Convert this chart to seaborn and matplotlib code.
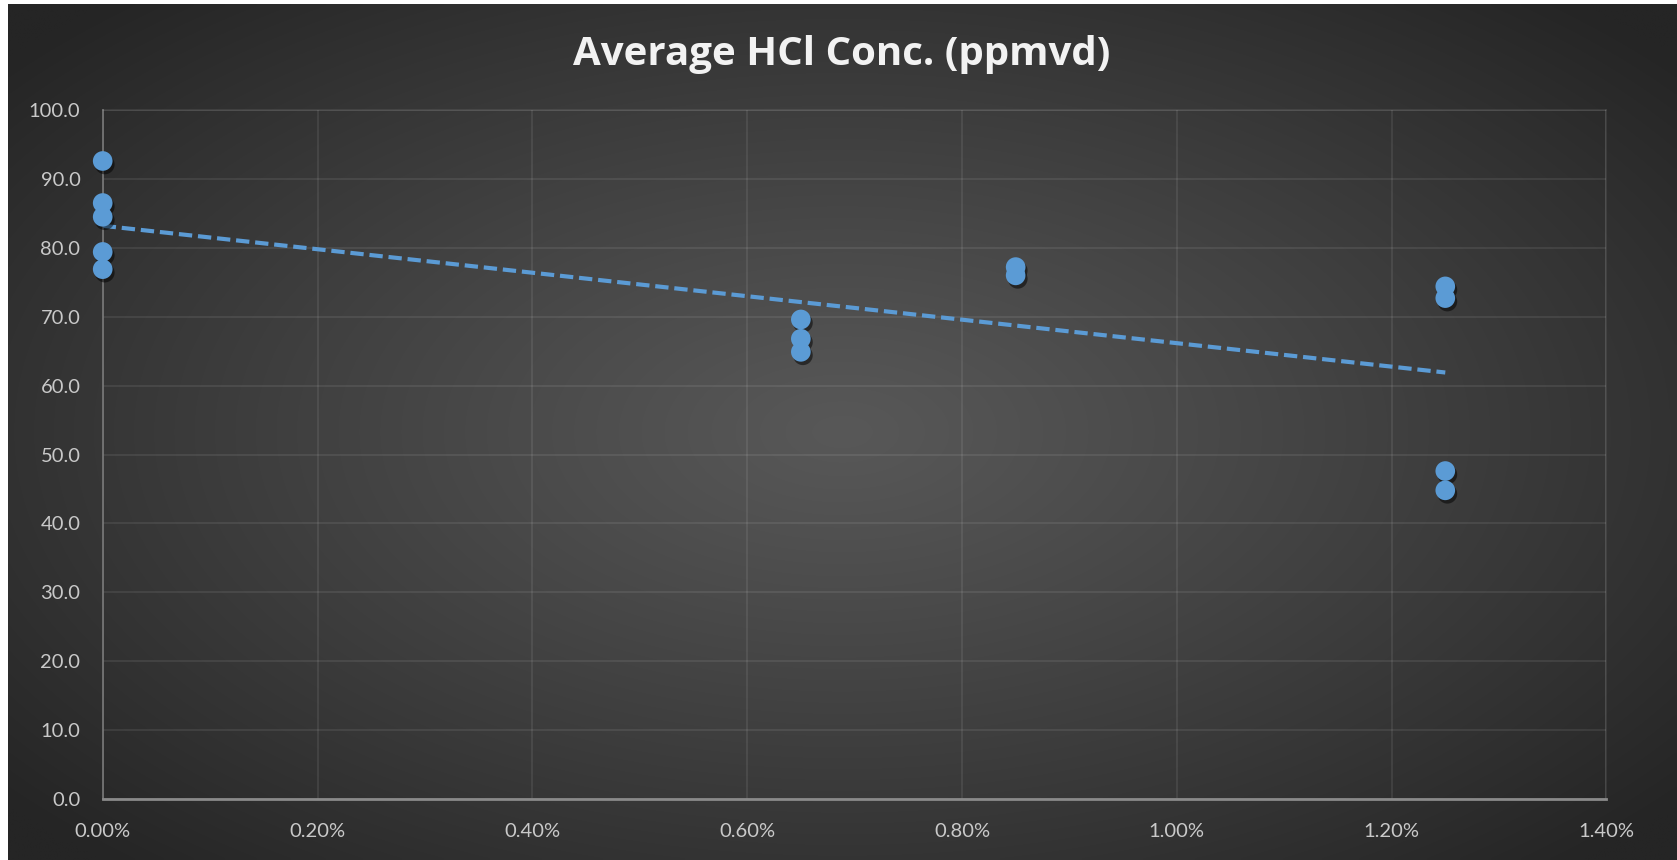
import numpy as np
import pandas as pd
import seaborn as sns
import matplotlib.pyplot as plt
import matplotlib.patheffects as pe
from matplotlib.ticker import PercentFormatter

# data
dose = [0.0, 0.0, 0.0, 0.0, 0.0,
        0.0065, 0.0065, 0.0065,
        0.0085, 0.0085,
        0.0125, 0.0125, 0.0125, 0.0125]
hcl = [92.6, 86.5, 84.5, 79.4, 76.9,
       69.6, 66.8, 64.9,
       77.2, 76.0,
       74.4, 72.7, 47.6, 44.8]
trend_x = [0.0, 0.0125]
trend_y = [83.2, 61.9]
x_ticks = [0.0, 0.002, 0.004, 0.006, 0.008, 0.010, 0.012, 0.014]
y_ticks = [0, 10, 20, 30, 40, 50, 60, 70, 80, 90, 100]
title = "Average HCl Conc. (ppmvd)"

df = pd.DataFrame({"dose": dose, "hcl": hcl})

sns.set_theme(style="dark")
plt.rcParams["font.family"] = ["Lato", "DejaVu Sans"]

blue = "#5b9bd5"
W, H = 1677, 860
fig = plt.figure(figsize=(W / 100, H / 100), dpi=100)
fig.patch.set_facecolor("white")

# radial gradient background (white strip on left/top like the source)
bg = fig.add_axes([8 / W, 0, 1 - 8 / W, 1 - 4 / H], zorder=0)
gx, gy = np.meshgrid(np.linspace(-1, 1, 400), np.linspace(-1, 1, 220))
r = np.clip(np.sqrt(gx ** 2 + (gy / 1.05) ** 2) / 1.3, 0, 1)
inner, outer = 0x58, 0x25
shade = (inner + (outer - inner) * r ** 1.1) / 255.0
bg.imshow(np.dstack([shade, shade, shade]), aspect="auto", extent=[0, 1, 0, 1],
          interpolation="bilinear")
bg.set_axis_off()

ax = fig.add_axes([102.7 / W, 1 - 799 / H, (1606.4 - 102.7) / W, (799 - 110) / H], zorder=1)
ax.set_facecolor("none")

sns.scatterplot(data=df, x="dose", y="hcl", ax=ax, s=200, color=blue,
                linewidth=0, zorder=4, clip_on=False)
ax.collections[-1].set_path_effects([
    pe.SimplePatchShadow(offset=(1.5, -2.5), shadow_rgbFace="black", alpha=0.5),
    pe.Normal()])

sns.lineplot(x=trend_x, y=trend_y, ax=ax, color=blue, lw=3.0,
             linestyle=(0, (3.2, 1.4)), zorder=3)

ax.set_xlim(0, 0.014)
ax.set_ylim(0, 100)
ax.set_xticks(x_ticks)
ax.set_yticks(y_ticks)
ax.xaxis.set_major_formatter(PercentFormatter(1.0, decimals=2))
ax.set_yticklabels([f"{v:.1f}" for v in y_ticks])
ax.set_xlabel("")
ax.set_ylabel("")

ax.grid(True, color="white", alpha=0.1, lw=1.1)
ax.tick_params(axis="both", length=0, colors="#c9c9c9", labelsize=14.5)
ax.tick_params(axis="y", pad=16)
ax.tick_params(axis="x", pad=17)
for side in ["top", "right"]:
    ax.spines[side].set_color((1, 1, 1, 0.1))
    ax.spines[side].set_linewidth(1.1)
ax.spines["left"].set_color("#7a7a7a")
ax.spines["left"].set_linewidth(1.2)
ax.spines["bottom"].set_color("#8a8a8a")
ax.spines["bottom"].set_linewidth(2.0)

fig.text(842 / W, 1 - 54 / H, title, ha="center", va="center",
         fontsize=29, fontweight="bold", color="#f2f2f2",
         family=["Open Sans", "DejaVu Sans"])

fig.savefig("out.png", dpi=100)
